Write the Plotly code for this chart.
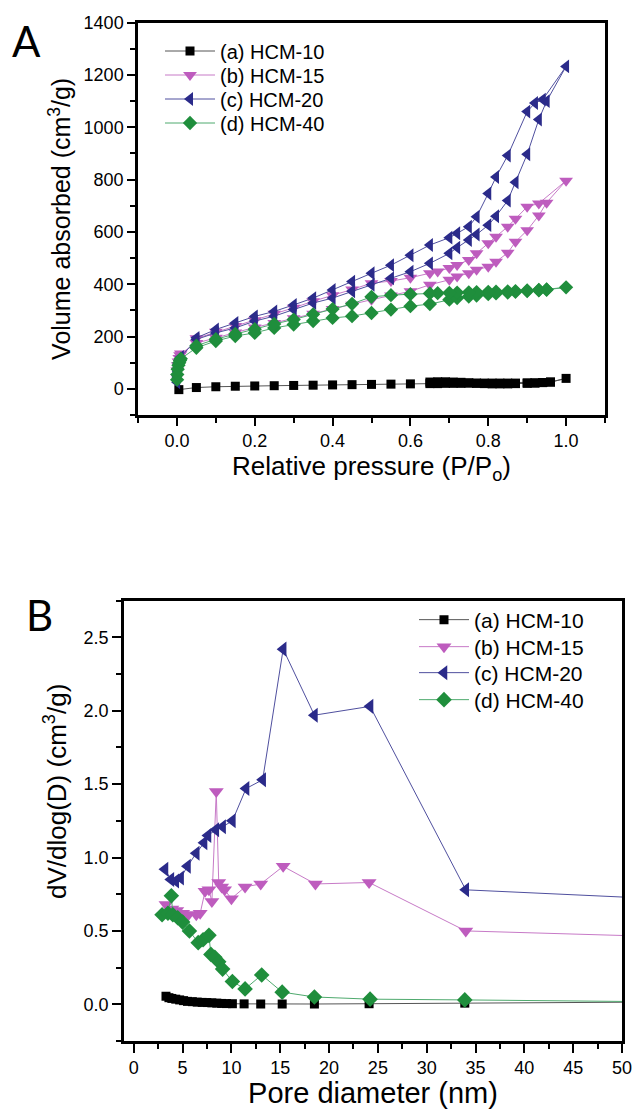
import plotly.graph_objects as go

# ---------------- Panel A: N2 isotherms ----------------
names = ["(a) HCM-10", "(b) HCM-15", "(c) HCM-20", "(d) HCM-40"]

p10_ads = [0.005, 0.05, 0.1, 0.15, 0.2, 0.25, 0.3, 0.35, 0.4, 0.45, 0.5, 0.55, 0.6, 0.65, 0.67, 0.69,
           0.71, 0.73, 0.75, 0.77, 0.79, 0.81, 0.83, 0.85, 0.87, 0.9, 0.92, 0.94, 0.96, 1.0]
v10_ads = [-3, 5, 8, 10, 11, 12, 13, 14, 15, 16, 17, 18, 19, 20, 20, 21,
           21, 21, 22, 22, 22, 22, 22, 22, 22, 23, 23, 24, 26, 40]
p10_des = [0.96, 0.94, 0.92, 0.9, 0.87, 0.85, 0.83, 0.81, 0.79, 0.77, 0.75, 0.73, 0.71, 0.69, 0.67, 0.65]
v10_des = [26, 24, 22, 21, 20, 19, 19, 19, 20, 21, 23, 25, 26, 27, 27, 26]

p15_ads = [0.0005, 0.001, 0.002, 0.004, 0.006, 0.008, 0.01, 0.05, 0.1, 0.15, 0.2, 0.25, 0.3, 0.35, 0.4,
           0.45, 0.5, 0.55, 0.6, 0.65, 0.7, 0.72, 0.75, 0.77, 0.8, 0.82, 0.85, 0.87, 0.9, 0.93, 0.95, 1.0]
v15_ads = [45, 70, 90, 105, 118, 128, 135, 175, 195, 215, 235, 252, 270, 287, 305,
           322, 341, 357, 373, 398, 417, 430, 442, 455, 467, 486, 520, 562, 606, 663, 712, 796]
p15_des = [0.93, 0.9, 0.87, 0.85, 0.82, 0.8, 0.77, 0.75, 0.72, 0.7, 0.67, 0.65, 0.6, 0.55, 0.5,
           0.45, 0.4, 0.35, 0.3, 0.25, 0.2, 0.15, 0.1, 0.05]
v15_des = [709, 696, 650, 620, 582, 557, 518, 493, 474, 462, 449, 442, 425, 412, 404,
           380, 358, 335, 310, 287, 262, 240, 218, 193]

p20_ads = [0.0005, 0.001, 0.002, 0.004, 0.006, 0.008, 0.01, 0.05, 0.1, 0.15, 0.2, 0.25, 0.3, 0.35, 0.4,
           0.45, 0.5, 0.55, 0.6, 0.65, 0.7, 0.72, 0.75, 0.77, 0.8, 0.82, 0.85, 0.87, 0.9, 0.93, 0.95, 1.0]
v20_ads = [25, 45, 65, 85, 100, 112, 122, 189, 214, 233, 259, 278, 303, 328, 347,
           373, 398, 423, 448, 480, 518, 540, 569, 590, 626, 660, 720, 790, 897, 1030, 1100, 1233]
p20_des = [0.94, 0.92, 0.9, 0.85, 0.82, 0.8, 0.77, 0.75, 0.72, 0.7, 0.65, 0.6, 0.55, 0.5,
           0.45, 0.4, 0.35, 0.3, 0.25, 0.2, 0.15, 0.1, 0.05]
v20_des = [1106, 1093, 1060, 892, 810, 747, 658, 620, 595, 578, 550, 511, 473, 442,
           410, 378, 347, 321, 296, 277, 252, 227, 195]

p40_ads = [0.0005, 0.001, 0.002, 0.004, 0.006, 0.008, 0.01, 0.05, 0.1, 0.15, 0.2, 0.25, 0.3, 0.35, 0.4,
           0.45, 0.5, 0.55, 0.6, 0.65, 0.7, 0.72, 0.75, 0.77, 0.8, 0.82, 0.85, 0.87, 0.9, 0.93, 0.95, 1.0]
v40_ads = [35, 55, 75, 90, 100, 108, 115, 157, 183, 202, 214, 233, 246, 259, 271,
           278, 290, 303, 316, 324, 341, 347, 353, 357, 362, 365, 368, 371, 374, 377, 379, 388]
p40_des = [0.95, 0.93, 0.9, 0.87, 0.85, 0.82, 0.8, 0.77, 0.75, 0.72, 0.7, 0.67, 0.65, 0.6, 0.55,
           0.5, 0.45, 0.4, 0.35, 0.3, 0.25, 0.2, 0.15, 0.1, 0.05]
v40_des = [380, 378, 376, 374, 373, 372, 371, 370, 369, 368, 367, 366, 365, 362, 358,
           352, 325, 305, 285, 265, 248, 228, 210, 190, 165]

# ---------------- Panel B: pore size distributions ----------------
d10 = [3.3, 3.6, 3.9, 4.3, 4.7, 5.1, 5.5, 6.0, 6.5, 7.0, 7.5, 8.0, 8.5, 9.0, 9.5, 10.1,
       11.3, 13.0, 15.2, 18.5, 24.1, 33.9, 65]
g10 = [0.055, 0.045, 0.04, 0.035, 0.03, 0.025, 0.02, 0.018, 0.015, 0.013, 0.012, 0.01, 0.008,
       0.006, 0.005, 0.004, 0.003, 0.002, 0.002, 0.002, 0.004, 0.008, 0.02]

d15 = [3.3, 3.9, 4.4, 5.0, 5.6, 6.4, 6.8, 7.3, 7.7, 8.0, 8.45, 8.7, 9.0, 9.3, 10.0, 11.4,
       13.0, 15.3, 18.6, 24.1, 34.0, 65]
g15 = [0.68, 0.65, 0.64, 0.62, 0.61, 0.61, 0.62, 0.77, 0.78, 0.70, 1.45, 0.83, 0.80, 0.78,
       0.72, 0.80, 0.82, 0.94, 0.82, 0.83, 0.50, 0.44]

d20 = [3.2, 3.8, 4.3, 4.8, 5.5, 6.4, 7.2, 7.6, 8.4, 9.1, 10.1, 11.5, 13.2, 15.3, 18.5,
       24.2, 34.0, 65]
g20 = [0.92, 0.85, 0.84, 0.86, 0.94, 1.03, 1.10, 1.15, 1.19, 1.21, 1.25, 1.47, 1.53, 2.42,
       1.97, 2.03, 0.78, 0.685]

d40 = [2.9, 3.5, 3.85, 4.0, 4.5, 5.0, 5.7, 6.6, 7.1, 7.7, 7.9, 8.3, 8.7, 9.1, 10.1, 11.4,
       13.1, 15.2, 18.5, 24.2, 33.9, 65]
g40 = [0.61, 0.62, 0.74, 0.61, 0.59, 0.56, 0.50, 0.42, 0.44, 0.47, 0.34, 0.32, 0.29, 0.24,
       0.155, 0.105, 0.20, 0.083, 0.05, 0.035, 0.03, 0.01]

marker_colors = ["#000000", "#BE5CBE", "#2B2B8A", "#1F8E3C"]
line_colors = ["#555555", "#C77AC7", "#4F4F9E", "#4FAA6E"]
symbols = ["square", "triangle-down", "triangle-left", "diamond"]
sizes_a = [9, 12, 12, 11]
sizes_b = [9, 13, 13, 12]

FONT = "Liberation Sans, Arial, sans-serif"
W, H = 635, 1109

# legend row positions (pixels from top) for each panel
rows_a = [51, 75, 99, 123]
rows_b = [620, 647, 673, 700]

fig = go.Figure()

iso = [(p10_ads + p10_des, v10_ads + v10_des),
       (p15_ads + p15_des, v15_ads + v15_des),
       (p20_ads + p20_des, v20_ads + v20_des),
       (p40_ads + p40_des, v40_ads + v40_des)]
for i, (px, py) in enumerate(iso):
    fig.add_trace(go.Scatter(
        x=px, y=py, mode="lines+markers", name=names[i], showlegend=True,
        line=dict(color=line_colors[i], width=1),
        marker=dict(symbol=symbols[i], size=sizes_a[i], color=marker_colors[i], line=dict(width=0)),
        xaxis="x", yaxis="y", legend="legend" if i == 0 else "legend%d" % (i + 1)))

psd = [(d10, g10), (d15, g15), (d20, g20), (d40, g40)]
for i, (px, py) in enumerate(psd):
    fig.add_trace(go.Scatter(
        x=px, y=py, mode="lines+markers", name=names[i], showlegend=True,
        line=dict(color=line_colors[i], width=1),
        marker=dict(symbol=symbols[i], size=sizes_b[i], color=marker_colors[i], line=dict(width=0)),
        xaxis="x2", yaxis="y2", legend="legend%d" % (i + 5)))


def axis_common(ticklen, minorlen, fsize):
    return dict(showline=True, mirror=True, linecolor="black", linewidth=2.5,
                ticks="outside", ticklen=ticklen, tickwidth=2, tickcolor="black",
                showgrid=False, zeroline=False,
                tickfont=dict(family=FONT, size=fsize, color="black"),
                minor=dict(ticks="outside", ticklen=minorlen, tickwidth=2, tickcolor="black", showgrid=False))

xa = axis_common(8, 5, 18)
xa.update(domain=[138 / W, 605 / W], range=[-0.1, 1.1], tick0=0, dtick=0.2, tickformat=".1f",
          anchor="y",
          title=dict(text="Relative pressure (P/P<sub>o</sub>)", font=dict(family=FONT, size=26, color="black"),
                     standoff=2))
xa["minor"].update(dtick=0.1, tick0=0)

ya = axis_common(8, 5, 18)
ya.update(domain=[1 - 415 / H, 1 - 22.7 / H], range=[-100, 1400], tick0=0, dtick=200, anchor="x",
          title=dict(text="Volume absorbed (cm<sup>3</sup>/g)", font=dict(family=FONT, size=25, color="black"),
                     standoff=6))
ya["minor"].update(dtick=100, tick0=0)

xb = axis_common(9, 5, 18)
xb.update(domain=[124 / W, 622 / W], range=[-1, 50], tick0=0, dtick=5, anchor="y2",
          title=dict(text="Pore diameter (nm)", font=dict(family=FONT, size=29, color="black"), standoff=2))
xb["minor"].update(dtick=2.5, tick0=0)

yb = axis_common(9, 5, 18)
yb.update(domain=[1 - 1041 / H, 1 - 600.7 / H], range=[-0.25, 2.75], tick0=0, dtick=0.5, tickformat=".1f",
          anchor="x2")
yb["minor"].update(dtick=0.25, tick0=0)

legends = {}
for i in range(4):
    key = "legend" if i == 0 else "legend%d" % (i + 1)
    legends[key] = dict(x=160 / W, y=1 - rows_a[i] / H, xanchor="left", yanchor="middle",
                        bgcolor="rgba(0,0,0,0)", font=dict(family=FONT, size=20, color="black"),
                        itemwidth=50, visible=True)
    legends["legend%d" % (i + 5)] = dict(x=414 / W, y=1 - rows_b[i] / H, xanchor="left", yanchor="middle",
                                         bgcolor="rgba(0,0,0,0)", font=dict(family=FONT, size=21, color="black"),
                                         itemwidth=50, visible=True)

fig.update_layout(
    width=W, height=H, margin=dict(l=0, r=0, t=0, b=0, autoexpand=False),
    paper_bgcolor="white", plot_bgcolor="white", showlegend=True,
    xaxis=xa, yaxis=ya, xaxis2=xb, yaxis2=yb,
    annotations=[
        dict(text="A", x=10 / W, y=1 - 14 / H, xref="paper", yref="paper", xanchor="left", yanchor="top",
             showarrow=False, font=dict(family="Lato, Open Sans, sans-serif", size=42, color="black")),
        dict(text="B", x=24 / W, y=1 - 588 / H, xref="paper", yref="paper", xanchor="left", yanchor="top",
             showarrow=False, font=dict(family="Lato, Open Sans, sans-serif", size=42, color="black")),
        dict(text="dV/dlog(D) (cm<sup>3</sup>/g)", x=55 / W, y=1 - 792 / H, xref="paper", yref="paper",
             xanchor="center", yanchor="middle", textangle=-90, showarrow=False,
             font=dict(family=FONT, size=26, color="black")),
    ],
)
fig.update_layout(**legends)

fig.write_html("out.html", config={"displayModeBar": False},
               post_script="document.body.style.margin='0';document.body.style.overflow='hidden';")
